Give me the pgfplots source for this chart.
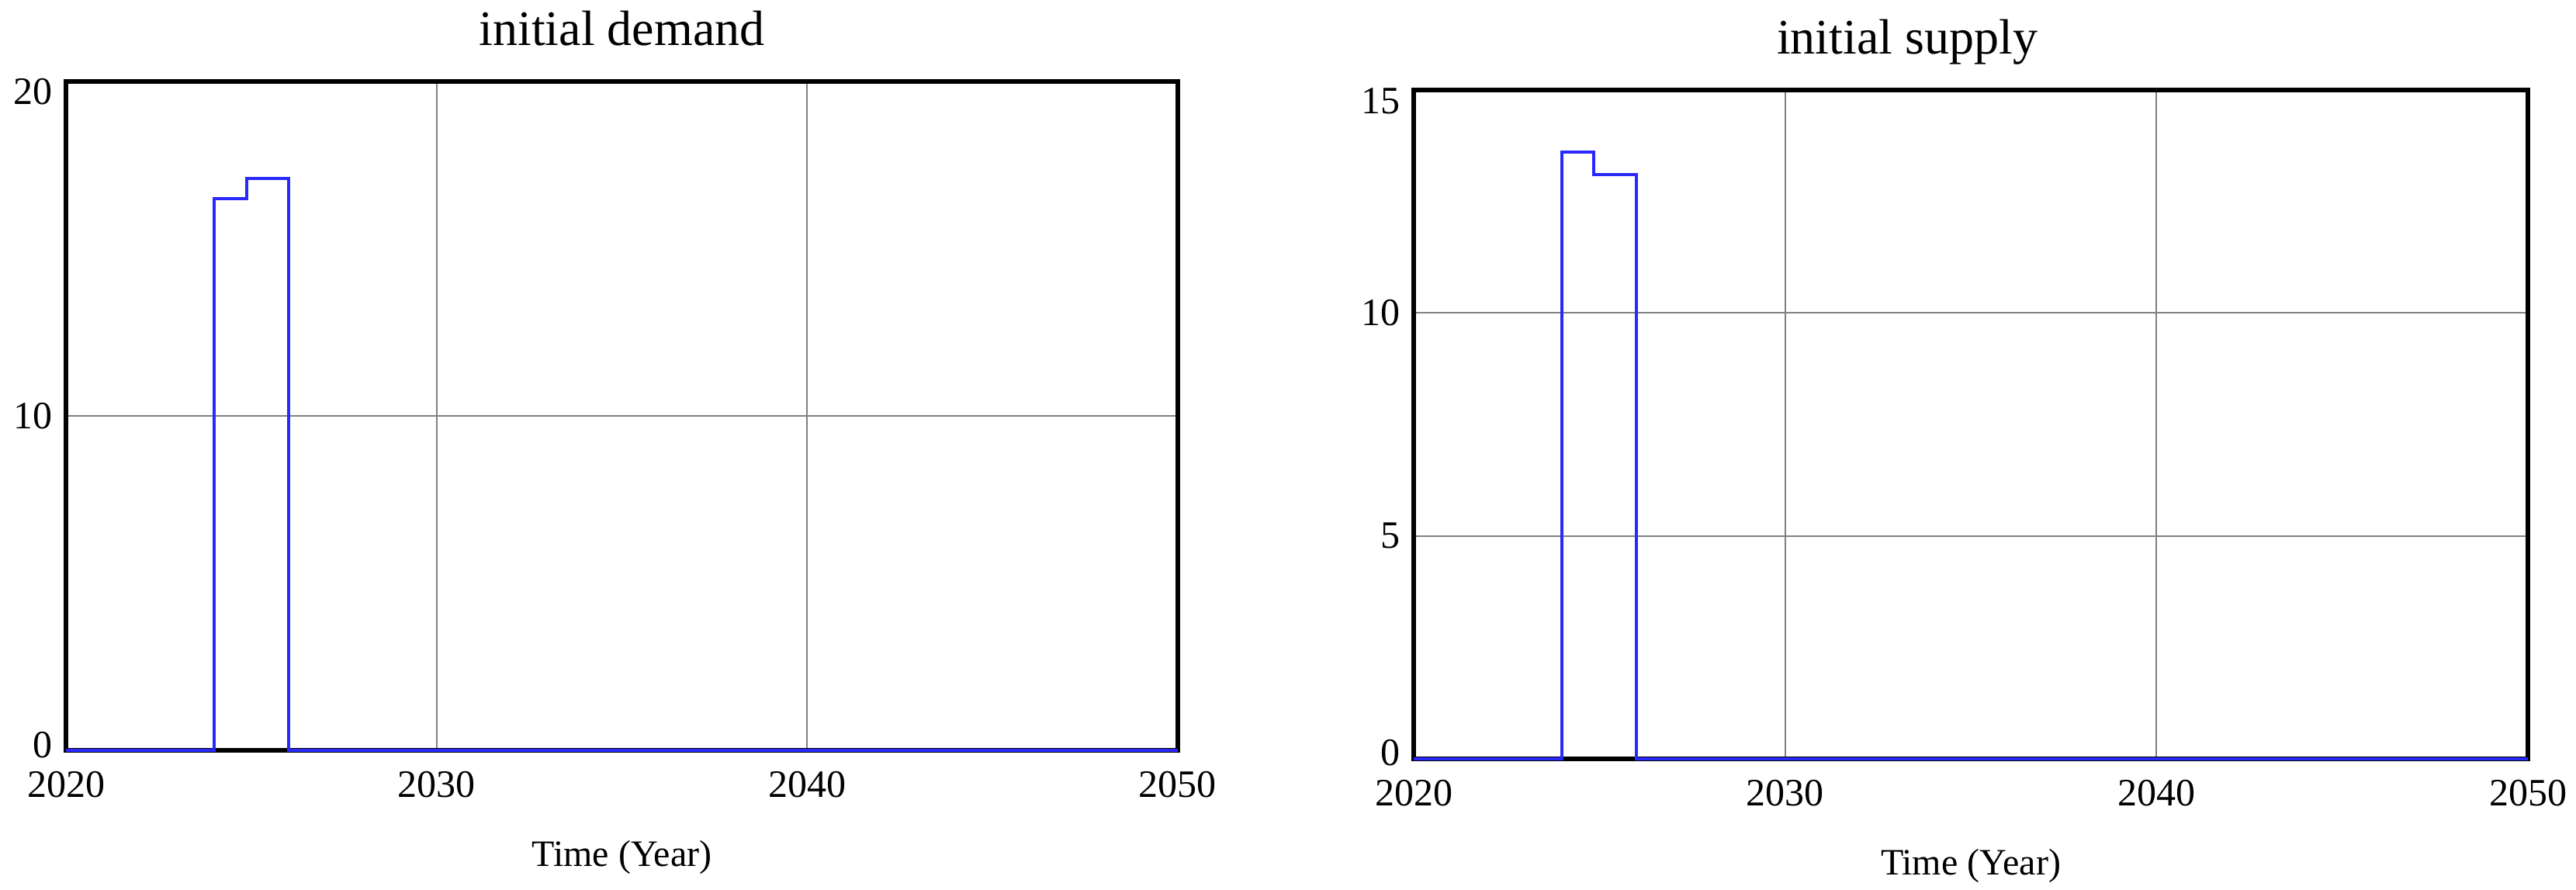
\documentclass[border=0pt]{standalone}
\usepackage{pgfplots}
\pgfplotsset{compat=1.18}
\usepackage{fontspec}
\setmainfont{Liberation Serif}
\definecolor{vblue}{RGB}{40,40,255}
\definecolor{vgrid}{RGB}{128,128,128}
\pgfplotsset{
  vensim/.style={
    scale only axis,
    height=172.4pt,
    xmin=2020, xmax=2050,
    xtick={2020,2030,2040,2050},
    xticklabels={2020,2030,2040,2050},
    grid=major,
    major grid style={vgrid, line width=0.45pt},
    major tick length=0pt,
    axis line style={black, line width=1.1pt},
    tick label style={font=\fontsize{10}{12}\selectfont},
    /pgf/number format/assume math mode=true,
    xticklabel style={yshift=-2pt},
    title style={font=\fontsize{12.8}{15}\selectfont, at={(rel axis cs:0.5,1)}, anchor=center, yshift=7.6pt},
    xlabel style={font=\fontsize{9.6}{12}\selectfont, at={(rel axis cs:0.5,0)}, anchor=center, yshift=-27.6pt},
    clip=false,
  },
}
\begin{document}
\begin{tikzpicture}
\useasboundingbox (0,0) rectangle (664pt,229.4pt);
\begin{axis}[vensim,
  at={(17pt,36pt)}, anchor=south west,
  width=286.6pt,
  ymin=0, ymax=20,
  ytick={0,10,20},
  yticklabels={\raisebox{1.4pt}[\height][\depth]{0},10,\raisebox{-2.6pt}[\height][\depth]{20}},
  title={initial demand},
  xlabel={Time (Year)},
]
\addplot[vblue, line width=0.8pt] coordinates {
(2020,0) (2024,0) (2024,16.5) (2024.875,16.5) (2024.875,17.1) (2026,17.1) (2026,0) (2050,0)
};
\end{axis}
\begin{axis}[vensim,
  at={(364.4pt,33.8pt)}, anchor=south west,
  width=287.2pt,
  ymin=0, ymax=15,
  ytick={0,5,10,15},
  yticklabels={\raisebox{1.6pt}[\height][\depth]{0},5,10,\raisebox{-2.8pt}[\height][\depth]{15}},
  title={initial supply},
  title style={xshift=-16.4pt, yshift=-1.2pt},
  xlabel={Time (Year)},
]
\addplot[vblue, line width=0.8pt] coordinates {
(2020,0) (2024,0) (2024,13.6) (2024.85,13.6) (2024.85,13.1) (2026,13.1) (2026,0) (2050,0)
};
\end{axis}
\end{tikzpicture}
\end{document}
